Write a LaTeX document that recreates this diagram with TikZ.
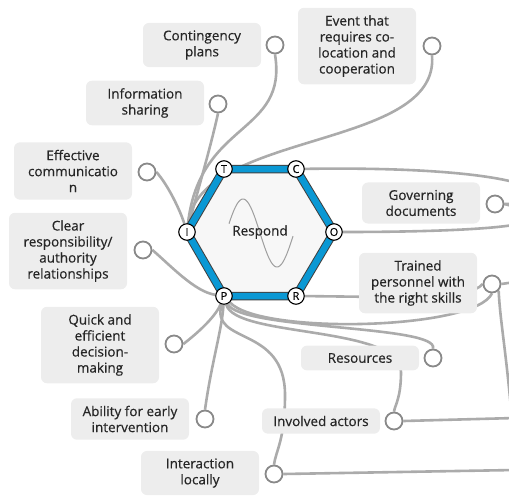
\documentclass[tikz,border=0pt]{standalone}
\usepackage{fontspec}
\setmainfont{Open Sans}
\newfontfamily\labelfont{Open Sans}[FakeBold=0.5]
\definecolor{wiregray}{HTML}{ABABAB}
\definecolor{boxgray}{HTML}{EDEDED}
\definecolor{hexblue}{HTML}{0A98D4}
\definecolor{ink}{HTML}{262626}
\pgfdeclarelayer{back}
\pgfsetlayers{back,main}

\begin{document}
\begin{tikzpicture}[x=1pt,y=-1pt]
\tikzset{factor/.style={fill=boxgray, rounded corners=6pt, minimum width=118pt, inner ysep=7.5pt,
  align=center, text=ink, font=\labelfont\fontsize{13.5}{16}\selectfont}}
\tikzset{knob/.style={circle, draw=wiregray!80!black, line width=1.8pt, fill=white, minimum size=17pt, inner sep=0pt}}
\tikzset{corner/.style={circle, draw=black, line width=1.1pt, fill=white, minimum size=16.5pt, inner sep=0pt,
  font=\labelfont\fontsize{11}{11}\selectfont}}
\tikzset{link/.style={draw=wiregray, line width=2.6pt}}
\useasboundingbox (0,0) rectangle (509,496);
\clip (0,0) rectangle (509,496);
% hexagon
\foreach \nm/\x/\y in {T/224/169, C/296/169, O/334/232, R/296/296, P/224/296, I/187/232}
  \coordinate (h\nm) at (\x,\y);
\filldraw[fill=gray!6, draw=black!75, line width=8.5pt, line join=round] (hT)--(hC)--(hO)--(hR)--(hP)--(hI)--cycle;
\draw[hexblue, line width=6.5pt, line join=round] (hT)--(hC)--(hO)--(hR)--(hP)--(hI)--cycle;
\draw[gray!75, line width=1pt] plot[domain=229:293, samples=60] (\x, {233-34*sin(180*(\x-226)/34)});
\node[text=ink, font=\labelfont\fontsize{13.5}{16}\selectfont] (respond) at (260,232) {Respond};
\foreach \nm in {T,C,O,R,P,I}
  \node[corner] (\nm) at (h\nm) {\nm};
% factors
\foreach \nm/\x/\y/\cx/\cy/\txt in {
  cont/202/45/275/45/{Contingency\\plans},
  event/357/46/432/46/{Event that\\requires co-\\location and\\cooperation},
  info/145/103/218/104/{Information\\sharing},
  comm/73/171/147/172/{Effective\\communicatio\\n},
  resp/68/251/143/250/{Clear\\responsibility/\\authority\\relationships},
  quick/100/345/174/344/{Quick and\\efficient\\decision-\\making},
  early/130/419/205/419/{Ability for early\\intervention},
  local/200/473/274/474/{Interaction\\locally},
  actors/321/421/394/421/{Involved actors},
  res/360/358/433/358/{Resources},
  skill/418/283/492/284/{Trained\\personnel with\\the right skills},
  gov/421/203/495/204/{Governing\\documents}} {
  \node[factor] (\nm) at (\x,\y) {\txt};
  \node[knob] (k\nm) at (\cx,\cy) {};
}
\coordinate (e1) at (515,282);
\coordinate (e2) at (512,420);
\coordinate (e3) at (515,418);
\coordinate (e4) at (515,470);
% links
\begin{pgfonlayer}{back}
\draw[link] (kcont.south) .. controls (288,135) and (200,120) .. (I);
\draw[link] (kevent.south) .. controls (440,150) and (200,130) .. (I);
\draw[link] (kinfo.south) .. controls (210,150) and (195,200) .. (I);
\draw[link] (kcomm.east) .. controls (168,185) and (180,210) .. (I);
\draw[link] (kresp.east) .. controls (170,265) and (195,292) .. (P);
\draw[link] (kquick.east) .. controls (195,335) and (215,318) .. (P);
\draw[link] (kearly.north) .. controls (212,360) and (222,330) .. (P);
\draw[link] (P) .. controls (210,345) and (285,325) .. (285,395) .. controls (285,440) and (276,450) .. (klocal.north);
\draw[link] (P) .. controls (235,338) and (400,325) .. (401,372) .. controls (401,398) and (395,405) .. (kactors.north);
\draw[link] (P) .. controls (240,330) and (440,325) .. (kres.north);
\draw[link] (P) .. controls (260,335) and (475,330) .. (kskill.south);
\draw[link] (R) .. controls (400,297) and (470,300) .. (kskill.west);
\draw[link] (C) .. controls (560,165) and (570,205) .. (kgov.east);
\draw[link] (O) .. controls (480,232) and (590,225) .. (kgov.east);
\draw[link] (kskill.east) -- (e1);
\draw[link] (kskill.south east) .. controls (500,320) and (506,350) .. (e2);
\draw[link] (kactors.east) -- (e3);
\draw[link] (klocal.east) -- (e4);
\end{pgfonlayer}
\end{tikzpicture}
\end{document}
